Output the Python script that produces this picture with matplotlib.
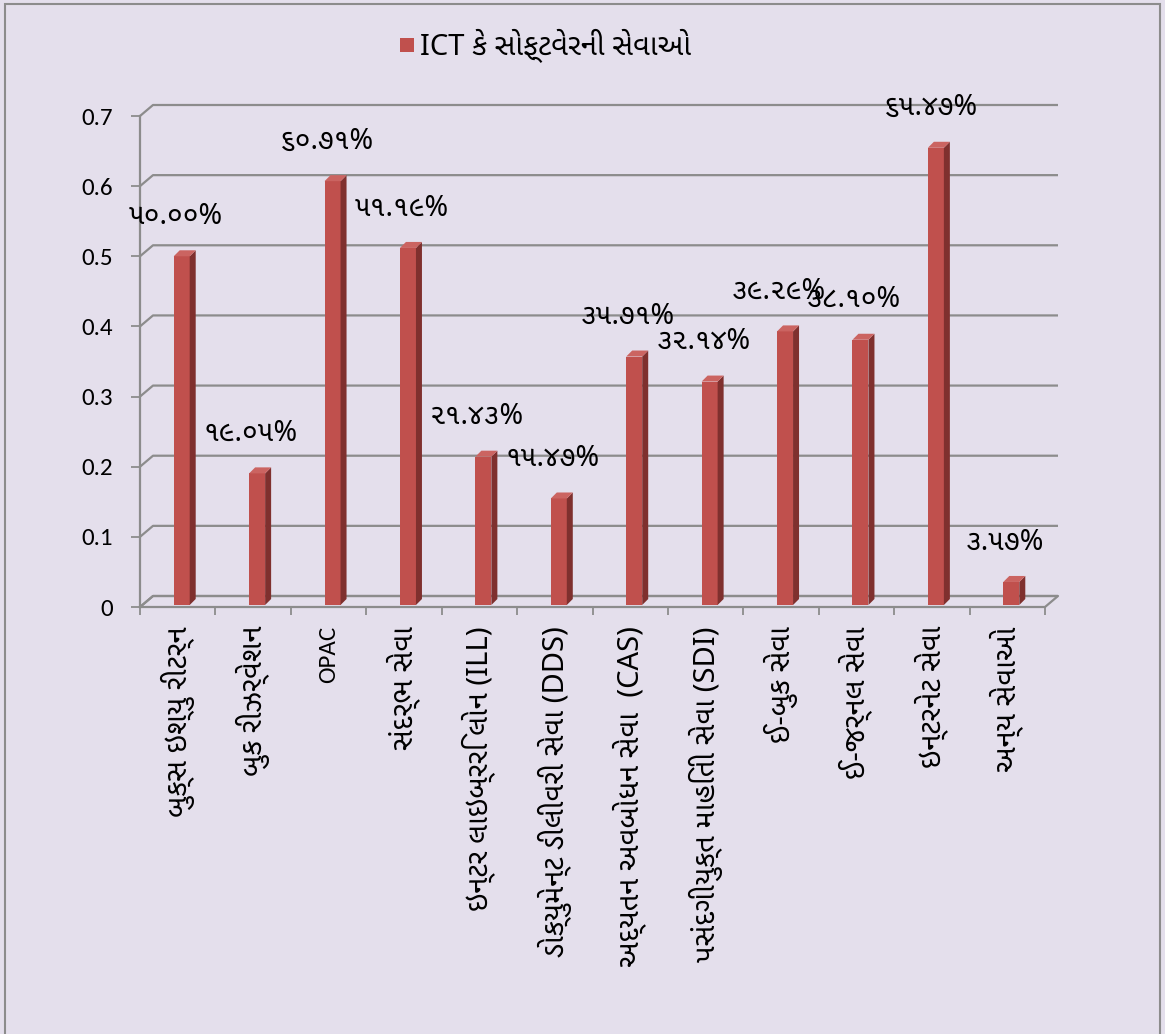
import matplotlib
matplotlib.use("Agg")
import matplotlib.pyplot as plt
from matplotlib import font_manager as fm
from matplotlib.patches import Polygon, Rectangle

# ---------------- data ----------------
categories = [
    "બુક્સ ઇશ્યુ રીટર્ન",
    "બુક રીઝર્વેશન",
    "OPAC",
    "સંદર્ભ સેવા",
    "ઇન્ટર લાઇબ્રરિ લોન (ILL)",
    "ડોક્યુમેન્ટ ડીલીવરી સેવા (DDS)",
    "અદ્યતન અવબોધન સેવા  (CAS)",
    "પસંદગીયુક્ત માહિતી સેવા (SDI)",
    "ઈ-બુક સેવા",
    "ઈ-જર્નલ સેવા",
    "ઇન્ટરનેટ સેવા",
    "અન્ય સેવાઓ",
]
values = [0.5000, 0.1905, 0.6071, 0.5119, 0.2143, 0.1547,
          0.3571, 0.3214, 0.3929, 0.3810, 0.6547, 0.0357]
value_labels = ["૫૦.૦૦%", "૧૯.૦૫%", "૬૦.૭૧%", "૫૧.૧૯%", "૨૧.૪૩%", "૧૫.૪૭%",
                "૩૫.૭૧%", "૩૨.૧૪%", "૩૯.૨૯%", "૩૮.૧૦%", "૬૫.૪૭%", "૩.૫૭%"]
series_name = "ICT કે સોફ્ટવેરની સેવાઓ"
yticks = [0, 0.1, 0.2, 0.3, 0.4, 0.5, 0.6, 0.7]
ytick_labels = ["0", "0.1", "0.2", "0.3", "0.4", "0.5", "0.6", "0.7"]

# ---------------- fonts ----------------
avail = {f.name for f in fm.fontManager.ttflist}
guj = next((n for n in ["Noto Sans Gujarati", "Noto Sans Gujarati UI", "Anek Gujarati",
                        "Hind Vadodara", "Mukta Vaani"] if n in avail), "DejaVu Sans")
lat = next((n for n in ["Carlito", "Lato", "Open Sans"] if n in avail), "DejaVu Sans")
fam = [lat, guj, "DejaVu Sans"]
gfam = [guj, lat, "DejaVu Sans"]
plt.rcParams["font.family"] = fam

BG = "#E4DFEC"
GRID = "#8C8C8C"
FRONT = "#C0504D"
SIDE = "#7F302E"
TOP = "#CB6461"

W, H = 1165, 1034
fig = plt.figure(figsize=(W / 100, H / 100), dpi=100, facecolor=BG)
# outer border
fig.add_artist(Rectangle((5 / W, -0.01), (1160 - 5) / W, 1.01 - 4 / H,
                         transform=fig.transFigure, fill=False,
                         edgecolor="#8C8C8C", lw=1.5))

ax_l, ax_r, y0, y7 = 140, 1045, 607, 116
ax = fig.add_axes([ax_l / W, (H - y0) / H, (ax_r - ax_l) / W, (y0 - y7) / H])
ax.set_facecolor("none")
n = len(values)
ax.set_xlim(0, n)
ax.set_ylim(0, 0.7)
for s in ax.spines.values():
    s.set_visible(False)

pxx = (ax_r - ax_l) / n          # pixels per x unit
pxy = (y0 - y7) / 0.7            # pixels per y unit
dx, dy = 13 / pxx, 11 / pxy      # depth of back wall

# back wall gridlines + left diagonal connectors
for t in yticks:
    ax.plot([0, dx, n + dx], [t, t + dy, t + dy], color=GRID, lw=1.6,
            clip_on=False, zorder=1, solid_capstyle="butt")
# floor
ax.plot([0, n, n + dx, dx, 0], [0, 0, dy, dy, 0], color=GRID, lw=1.6,
        clip_on=False, zorder=1)
# left axis line
ax.plot([0, 0], [0, 0.7], color=GRID, lw=1.6, clip_on=False, zorder=1)

# bars (front face via ax.bar, side and top faces as polygons)
bw = 16 / pxx
bdx, bdy = 6 / pxx, 6 / pxy
boff = 4 / pxx
bb = 2 / pxy
xs = [i + 0.5 + boff for i in range(n)]
ax.bar(xs, [v - bb for v in values], bottom=bb, width=bw, color=FRONT,
       zorder=3, clip_on=False, linewidth=0)
for x, v in zip(xs, values):
    r = x + bw / 2
    l = x - bw / 2
    ax.add_patch(Polygon([(r, bb), (r + bdx, bb + bdy), (r + bdx, v + bdy), (r, v)],
                         closed=True, facecolor=SIDE, edgecolor="none",
                         zorder=3, clip_on=False))
    ax.add_patch(Polygon([(l, v), (r, v), (r + bdx, v + bdy), (l + bdx, v + bdy)],
                         closed=True, facecolor=TOP, edgecolor="none",
                         zorder=3, clip_on=False))

# value labels
for x, v, lab in zip(xs, values, value_labels):
    ax.annotate(lab, (x, v), xytext=(-6, 40), textcoords="offset pixels",
                ha="center", va="center", fontsize=20.5, family=gfam,
                color="black", zorder=5, annotation_clip=False)

# y ticks
ax.set_yticks(yticks)
ax.set_yticklabels(ytick_labels)
ax.tick_params(axis="y", which="major", length=6.5, width=1.3, color=GRID,
               pad=13, labelsize=18, direction="out")

# x ticks: boundary marks; category labels placed under each category centre
ax.set_xticks(range(n + 1))
ax.set_xticklabels([])
ax.tick_params(axis="x", which="major", length=6, width=1.3, color=GRID,
               direction="out")
xtrans = ax.get_xaxis_transform()
for i, cat in enumerate(categories):
    is_latin = cat.isascii()
    ax.annotate(cat, (i + 0.5, 0), xycoords=xtrans, xytext=(0, -19),
                textcoords="offset pixels", rotation=90, ha="center", va="top",
                fontsize=18 if is_latin else 21, family=fam if is_latin else gfam,
                annotation_clip=False)

# legend
fig.add_artist(Rectangle((400 / W, (H - 52) / H), 14 / W, 14 / H,
                         transform=fig.transFigure, facecolor=FRONT,
                         edgecolor="none"))
fig.text(420 / W, (H - 46) / H, series_name, ha="left", va="center",
         fontsize=21, family=gfam)

fig.savefig("out.png", dpi=100, facecolor=BG)
